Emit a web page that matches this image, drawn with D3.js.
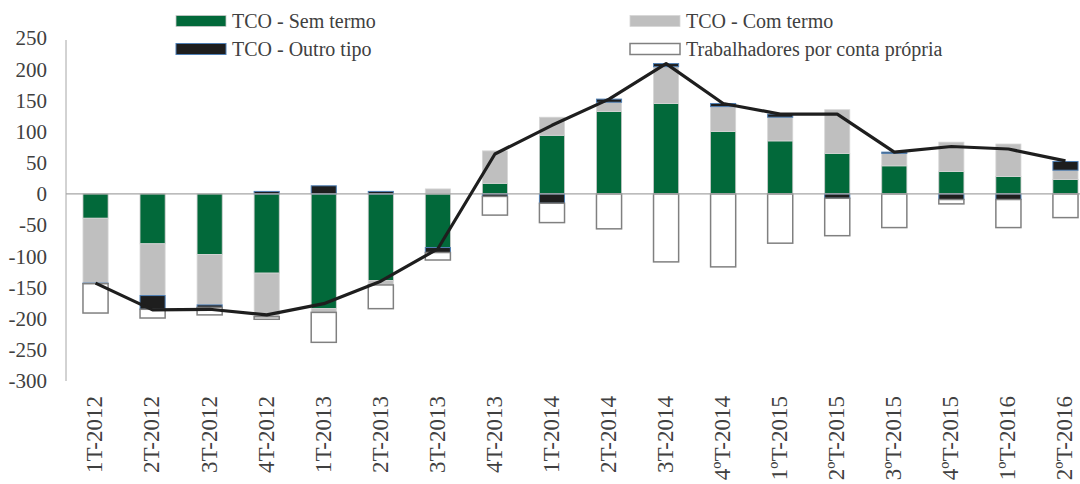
<!DOCTYPE html>
<html>
<head>
<meta charset="utf-8">
<script src="https://cdn.jsdelivr.net/npm/d3@7"></script>
<style>
  html, body { margin: 0; padding: 0; background: #fff; }
  svg { display: block; font-family: "Liberation Serif", "Times New Roman", serif; }
  .tick-label { fill: #404040; font-size: 21px; }
  .x-label { fill: #404040; font-size: 23px; }
  .legend-label { fill: #404040; font-size: 20px; }
</style>
</head>
<body>
<div id="chart"></div>
<script>
var categories = ['1T-2012', '2T-2012', '3T-2012', '4T-2012', '1T-2013', '2T-2013', '3T-2013', '4T-2013',
  '1T-2014', '2T-2014', '3T-2014', '4ºT-2014', '1ºT-2015', '2ºT-2015', '3ºT-2015', '4ºT-2015', '1ºT-2016', '2ºT-2016'];

var semTermo     = [-39, -80, -97, -127, -184, -139, -86, 17, 94, 132, 145, 100, 85, 65, 45, 36, 28, 23];
var comTermo     = [-104, -83, -81, -70, -6, -7, 8, 52, 29, 15, 59, 40, 38, 70, 20, 47, 52, 15];
var outroTipo    = [-1, -22, -4, 4, 13, 4, -8, -4, -15, 5, 5, 5, 5, -7, 2, -9, -9, 14];
var contaPropria = [-47, -14, -12, -4, -48, -38, -12, -30, -31, -56, -109, -117, -79, -60, -54, -7, -45, -38];
var total        = [-143, -186, -185, -194, -176, -140, -88, 64, 110, 152, 209, 145, 128, 128, 67, 76, 72, 53];

var yTicks = [250, 200, 150, 100, 50, 0, -50, -100, -150, -200, -250, -300];

var seriesInfo = [
  {key: 'semTermo', name: 'TCO - Sem termo', fill: '#02693a', stroke: '#c9c9c9', sw: 0.8},
  {key: 'comTermo', name: 'TCO - Com termo', fill: '#bfbfbf', stroke: '#d6d6d6', sw: 0.8},
  {key: 'outroTipo', name: 'TCO - Outro tipo', fill: '#1e1e1e', stroke: '#4f7fb4', sw: 1},
  {key: 'contaPropria', name: 'Trabalhadores por conta própria', fill: '#ffffff', stroke: '#808080', sw: 1.5}
];

var width = 1080, height = 484;

//build rows for the stack
var rows = categories.map(function(c, i) {
  return {cat: c, semTermo: semTermo[i], comTermo: comTermo[i], outroTipo: outroTipo[i], contaPropria: contaPropria[i]};
});

var stacked = d3.stack()
  .keys(seriesInfo.map(function(s) { return s.key; }))
  .offset(d3.stackOffsetDiverging)(rows);

var x = d3.scaleBand()
  .domain(categories)
  .range([67, 1094])
  .paddingInner(0.56)
  .paddingOuter(0.28);

var y = d3.scaleLinear()
  .domain([-300, 250])
  .range([381, 38]);

var svg = d3.select('#chart').append('svg')
  .attr('width', width)
  .attr('height', height);

//y tick labels
svg.append('g').selectAll('text')
  .data(yTicks)
  .enter().append('text')
    .attr('class', 'tick-label')
    .attr('x', 47)
    .attr('y', function(d) { return y(d); })
    .attr('dy', '0.35em')
    .attr('text-anchor', 'end')
    .text(function(d) { return d; });

//y axis line
svg.append('line')
  .attr('x1', 66).attr('x2', 66)
  .attr('y1', y(250) + 2).attr('y2', y(-300))
  .attr('stroke', '#a6a6a6')
  .attr('stroke-width', 1);

//bars
var layers = svg.append('g').selectAll('g')
  .data(stacked)
  .enter().append('g')
    .attr('fill', function(d, i) { return seriesInfo[i].fill; })
    .attr('stroke', function(d, i) { return seriesInfo[i].stroke; })
    .attr('stroke-width', function(d, i) { return seriesInfo[i].sw; });

layers.selectAll('rect')
  .data(function(d) { return d; })
  .enter().append('rect')
    .attr('x', function(d) { return x(d.data.cat); })
    .attr('width', x.bandwidth())
    .attr('y', function(d) { return y(Math.max(d[0], d[1])); })
    .attr('height', function(d) { return Math.abs(y(d[0]) - y(d[1])); })
    .style('display', function(d) { return d[0] == d[1] ? 'none' : null; });

//zero line
svg.append('line')
  .attr('x1', 66).attr('x2', width)
  .attr('y1', y(0)).attr('y2', y(0))
  .attr('stroke', '#a6a6a6')
  .attr('stroke-width', 1.2);

//total line
var line = d3.line()
  .x(function(d, i) { return x(categories[i]) + x.bandwidth() / 2; })
  .y(function(d) { return y(d); });

svg.append('path')
  .datum(total)
  .attr('d', line)
  .attr('fill', 'none')
  .attr('stroke', '#1e1e1e')
  .attr('stroke-width', 3.2)
  .attr('stroke-linejoin', 'round');

//x labels
svg.append('g').selectAll('text')
  .data(categories)
  .enter().append('text')
    .attr('class', 'x-label')
    .attr('transform', function(d) { return 'translate(' + (x(d) + x.bandwidth() / 2) + ',396) rotate(-90)'; })
    .attr('dy', '0.3em')
    .attr('text-anchor', 'end')
    .text(function(d) { return d; });

//legend
var legendPos = [
  {x: 176, y: 21},
  {x: 630, y: 21},
  {x: 176, y: 49},
  {x: 630, y: 49}
];

var legend = svg.append('g').selectAll('g')
  .data(seriesInfo)
  .enter().append('g')
    .attr('transform', function(d, i) { return 'translate(' + legendPos[i].x + ',' + legendPos[i].y + ')'; });

legend.append('rect')
  .attr('x', 0)
  .attr('y', -5.5)
  .attr('width', 50)
  .attr('height', 11)
  .attr('fill', function(d) { return d.fill; })
  .attr('stroke', function(d) { return d.stroke; })
  .attr('stroke-width', function(d) { return d.sw; });

legend.append('text')
  .attr('class', 'legend-label')
  .attr('x', 56)
  .attr('y', 7)
  .text(function(d) { return d.name; });
</script>
</body>
</html>
